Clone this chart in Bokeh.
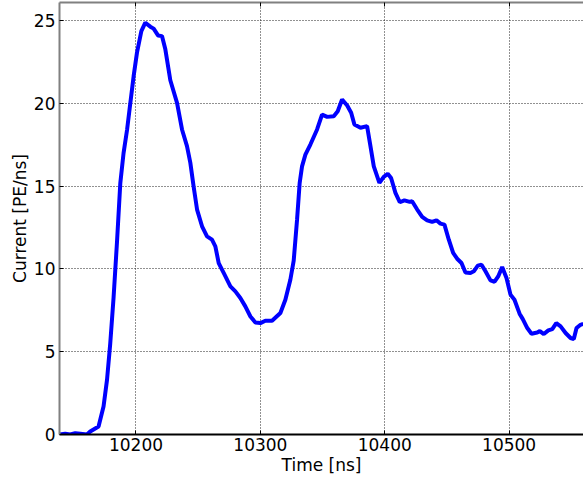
from bokeh.plotting import figure
from bokeh.models import Range1d, LinearAxis, FixedTicker
from bokeh.embed import file_html
from bokeh.resources import INLINE

# Data
time_ns = [10138.5, 10143.1, 10147.1, 10151.2, 10155.2, 10160.6, 10163.2, 10169.9, 10173.9, 10176.7,
           10179.3, 10182.0, 10184.7, 10187.4, 10190.0, 10192.8, 10195.4, 10198.1, 10200.8, 10204.3,
           10207.5, 10211.5, 10214.2, 10217.7, 10220.9, 10223.6, 10227.6, 10233.0, 10237.0, 10241.0,
           10243.7, 10246.3, 10249.1, 10253.1, 10257.1, 10261.1, 10263.8, 10266.5, 10270.5, 10275.9,
           10279.9, 10283.9, 10287.9, 10292.0, 10296.0, 10300.0, 10304.0, 10309.4, 10316.1, 10320.1,
           10324.1, 10326.8, 10329.5, 10331.6, 10333.5, 10336.2, 10340.2, 10345.6, 10349.6, 10353.7,
           10359.0, 10362.2, 10365.7, 10369.8, 10373.0, 10375.6, 10380.5, 10385.8, 10388.5, 10391.2,
           10395.7, 10399.2, 10402.4, 10405.1, 10408.6, 10412.1, 10415.8, 10420.1, 10422.0, 10426.1,
           10430.1, 10434.1, 10438.1, 10441.6, 10444.8, 10448.0, 10451.5, 10455.0, 10458.2, 10461.7,
           10464.9, 10468.9, 10471.6, 10474.8, 10477.8, 10481.0, 10485.0, 10488.3, 10491.2, 10494.4,
           10497.9, 10501.1, 10504.3, 10508.4, 10511.0, 10514.6, 10518.0, 10522.6, 10524.7, 10527.9,
           10531.5, 10534.7, 10537.9, 10541.4, 10545.4, 10549.4, 10552.0, 10554.2, 10557.4, 10559.6]
current = [0.0, 0.05, 0.0, 0.08, 0.05, 0.0, 0.18, 0.48, 1.69, 3.3,
           5.5, 8.3, 11.6, 15.2, 17.0, 18.4, 20.0, 21.65, 23.07, 24.37,
           24.88, 24.64, 24.52, 24.11, 24.07, 23.27, 21.4, 20.04, 18.43, 17.42,
           16.41, 15.0, 13.59, 12.58, 11.97, 11.77, 11.37, 10.36, 9.76, 8.95,
           8.65, 8.25, 7.74, 7.13, 6.77, 6.73, 6.87, 6.87, 7.34, 8.14,
           9.35, 10.5, 12.98, 15.2, 16.2, 16.91, 17.52, 18.43, 19.33, 19.19,
           19.23, 19.53, 20.24, 19.88, 19.44, 18.73, 18.53, 18.63, 17.42, 16.2,
           15.2, 15.57, 15.75, 15.5, 14.6, 14.03, 14.15, 14.05, 14.09, 13.59,
           13.15, 12.94, 12.84, 12.94, 12.74, 12.68, 11.77, 10.97, 10.62, 10.36,
           9.79, 9.76, 9.86, 10.2, 10.26, 9.86, 9.31, 9.23, 9.55, 10.12,
           9.46, 8.45, 8.14, 7.3, 6.97, 6.43, 6.09, 6.16, 6.25, 6.07,
           6.29, 6.37, 6.73, 6.53, 6.13, 5.83, 5.77, 6.43, 6.63, 6.69]

x_ticks = [10200, 10300, 10400, 10500]
y_ticks = [0, 5, 10, 15, 20, 25]
x_label = "Time [ns]"
y_label = "Current [PE/ns]"

FONT = "DejaVu Sans"
SPINE = "#808080"

p = figure(width=583, height=477, output_backend="svg", toolbar_location=None,
           x_range=Range1d(10138.5, 10559.8), y_range=Range1d(0, 26.1),
           min_border_left=59, min_border_right=0, min_border_top=2, min_border_bottom=42)
p.outline_line_color = None
p.background_fill_color = "white"
p.border_fill_color = "white"

p.line(time_ns, current, line_color="#0000ff", line_width=4)

for ax in (p.xaxis[0], p.yaxis[0]):
    ax.major_label_text_font = FONT
    ax.major_label_text_font_size = "17px"
    ax.major_label_text_color = "black"
    ax.axis_label_text_font = FONT
    ax.axis_label_text_font_size = "17px"
    ax.axis_label_text_font_style = "normal"
    ax.axis_label_text_color = "black"
    ax.axis_line_width = 2
    ax.major_tick_in = 4
    ax.major_tick_out = 0
    ax.major_tick_line_color = "black"
    ax.minor_tick_line_color = None

p.xaxis[0].axis_line_color = "black"
p.yaxis[0].axis_line_color = SPINE
p.xaxis[0].ticker = FixedTicker(ticks=x_ticks)
p.yaxis[0].ticker = FixedTicker(ticks=y_ticks)
p.xaxis[0].axis_label = x_label
p.yaxis[0].axis_label = y_label
p.xaxis[0].major_label_standoff = 3
p.xaxis[0].axis_label_standoff = 1
p.yaxis[0].major_label_standoff = 4
p.yaxis[0].axis_label_standoff = 1

top = LinearAxis(ticker=FixedTicker(ticks=x_ticks), major_label_text_color=None,
                 major_label_text_font_size="17px",
                 axis_line_color=SPINE, axis_line_width=2, major_tick_in=4, major_tick_out=0,
                 major_tick_line_color="black", minor_tick_line_color=None,
                 major_label_standoff=0)
p.add_layout(top, "above")

for g, t in ((p.xgrid[0], x_ticks), (p.ygrid[0], y_ticks)):
    g.ticker = FixedTicker(ticks=t)
    g.grid_line_color = "#222222"
    g.grid_line_dash = "1 2"
    g.grid_line_width = 1

open("out.html", "w").write(file_html(p, INLINE))
